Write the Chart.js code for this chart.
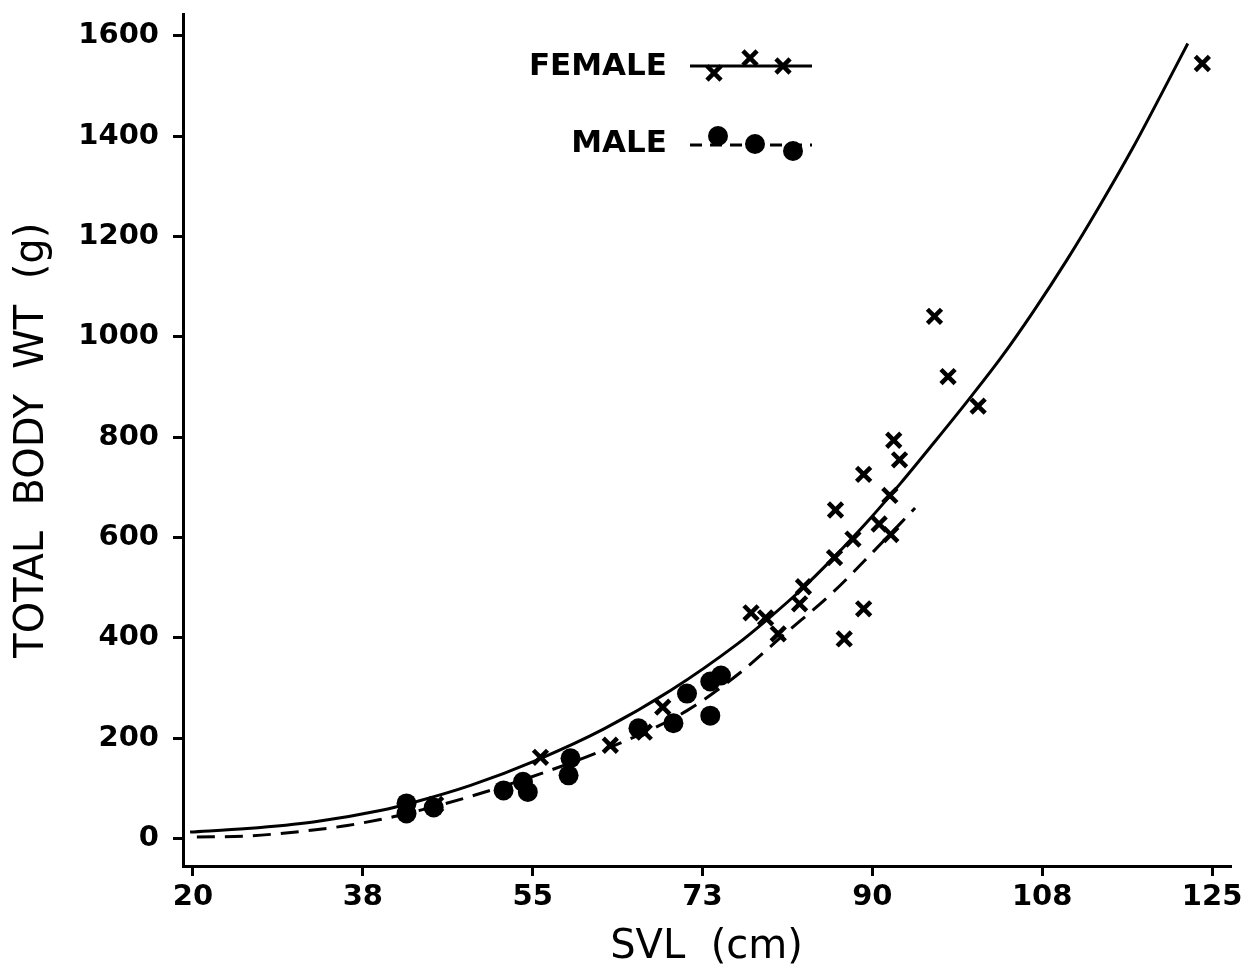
<!DOCTYPE html>
<html>
<head>
<meta charset="utf-8">
<script src="https://cdn.jsdelivr.net/npm/chart.js@4.4.1/dist/chart.umd.min.js"></script>
<style>
html,body{margin:0;padding:0;background:#fff;}
#wrap{width:1249px;height:969px;}
</style>
</head>
<body>
<div id="wrap"><canvas id="c" width="1249" height="969"></canvas></div>
<script>
// ---- tick definitions ----
const xTickValues = [20, 37.5, 55, 72.5, 90, 107.5, 125];
const xTickLabels = ['20', '38', '55', '73', '90', '108', '125'];
const yTickValues = [0, 200, 400, 600, 800, 1000, 1200, 1400, 1600];

// ---- observed females (x markers) ----
const femaleSVL = [124.0, 96.4, 97.8, 100.9, 92.2, 92.8, 89.1, 91.8, 86.2, 90.7, 91.9, 88.0, 86.1, 82.9, 82.5, 77.5, 79.0, 80.3, 89.1, 87.1, 55.8, 63.0, 68.4, 45.0, 66.5];
const femaleWT  = [1545, 1041, 921, 862, 794, 755, 726, 684, 655, 627, 606, 597, 560, 502, 468, 450, 440, 408, 458, 398, 162, 186, 262, 68, 212];

// ---- observed males (filled circles) ----
const maleSVL = [42.0, 42.0, 44.8, 52.0, 54.0, 54.5, 58.9, 58.7, 65.9, 69.5, 70.9, 73.3, 73.3, 74.4];
const maleWT  = [70, 50, 62, 96, 113, 93, 160, 126, 220, 230, 289, 245, 313, 325];

// ---- fitted curves ----
const femaleCurveSVL = [19.7, 25.6, 32.4, 39.3, 42.7, 48.6, 55.5, 62.3, 69.2, 76.1, 79.2, 82.6, 86.0, 89.5, 92.9, 96.3, 99.8, 103.2, 106.6, 110.1, 113.5, 116.9, 119.7, 122.5];
const femaleCurveWT  = [13, 20, 33, 56, 72, 106, 157, 218, 295, 388, 437, 495, 560, 632, 708, 788, 872, 957, 1051, 1155, 1264, 1379, 1481, 1585];
const maleCurveSVL = [20.4, 25.5, 29.0, 32.4, 35.9, 39.3, 41.0, 48.6, 56.5, 64.0, 70.9, 76.4, 80.8, 86.0, 90.1, 94.4];
const maleCurveWT  = [3, 5, 10, 17, 26, 38, 45, 84, 134, 190, 255, 331, 405, 492, 572, 659];

const toXY = (xs, ys) => xs.map((x, i) => ({x: x, y: ys[i]}));

const TICK_FONT = {family: '"DejaVu Sans", sans-serif', size: 29, weight: 'bold'};
const TITLE_FONT = {family: '"DejaVu Sans", sans-serif', size: 40, weight: 'normal', lineHeight: 1};

const legendPlugin = {
  id: 'customLegend',
  afterDraw(chart) {
    const ctx = chart.ctx;
    ctx.save();
    ctx.fillStyle = '#000';
    ctx.strokeStyle = '#000';
    ctx.font = 'bold 31px "DejaVu Sans", sans-serif';
    ctx.textAlign = 'right';
    ctx.textBaseline = 'middle';
    ctx.fillText('FEMALE', 667, 67);
    ctx.fillText('MALE', 667, 144);
    // female sample: solid line with x markers
    ctx.lineWidth = 3;
    ctx.setLineDash([]);
    ctx.beginPath(); ctx.moveTo(690, 66); ctx.lineTo(812, 66); ctx.stroke();
    const fem = {pointStyle: 'crossRot', radius: 10, borderWidth: 4.5};
    ctx.lineWidth = 4.5;
    Chart.helpers.drawPoint(ctx, fem, 714, 73);
    Chart.helpers.drawPoint(ctx, fem, 750, 58);
    Chart.helpers.drawPoint(ctx, fem, 783, 66);
    // male sample: dashed line with dots
    ctx.lineWidth = 3;
    ctx.setLineDash([12, 8]);
    ctx.beginPath(); ctx.moveTo(690, 145); ctx.lineTo(812, 145); ctx.stroke();
    ctx.setLineDash([]);
    [[718, 136], [755, 144], [793, 151]].forEach(p => {
      ctx.beginPath(); ctx.arc(p[0], p[1], 10, 0, Math.PI * 2); ctx.fill();
    });
    ctx.restore();
  }
};

const bgPlugin = {
  id: 'bg',
  beforeDraw(chart) {
    const ctx = chart.ctx;
    ctx.save(); ctx.fillStyle = '#fff'; ctx.fillRect(0, 0, chart.width, chart.height); ctx.restore();
  }
};

new Chart(document.getElementById('c'), {
  type: 'scatter',
  data: {
    datasets: [
      {
        label: 'FEMALE fit',
        data: toXY(femaleCurveSVL, femaleCurveWT),
        showLine: true,
        borderColor: '#000',
        borderWidth: 3,
        pointRadius: 0,
        cubicInterpolationMode: 'monotone',
        order: 3
      },
      {
        label: 'MALE fit',
        data: toXY(maleCurveSVL, maleCurveWT),
        showLine: true,
        borderColor: '#000',
        borderWidth: 3,
        borderDash: [18, 10],
        pointRadius: 0,
        cubicInterpolationMode: 'monotone',
        order: 4
      },
      {
        label: 'FEMALE',
        data: toXY(femaleSVL, femaleWT),
        pointStyle: 'crossRot',
        pointRadius: 10,
        pointBorderWidth: 4.5,
        borderColor: '#000',
        backgroundColor: '#000',
        order: 1
      },
      {
        label: 'MALE',
        data: toXY(maleSVL, maleWT),
        pointStyle: 'circle',
        pointRadius: 10,
        borderWidth: 0,
        borderColor: '#000',
        backgroundColor: '#000',
        order: 2
      }
    ]
  },
  options: {
    responsive: false,
    devicePixelRatio: 1,
    animation: false,
    layout: {padding: {top: 12, right: 19, left: 0, bottom: 0}},
    plugins: {legend: {display: false}, tooltip: {enabled: false}},
    scales: {
      x: {
        type: 'linear',
        min: 18.97,
        max: 126.85,
        afterBuildTicks: s => { s.ticks = xTickValues.map(v => ({value: v})); },
        afterFit: s => { s.height = 103; s.paddingLeft = 0; s.paddingRight = 0; },
        ticks: {
          color: '#000',
          font: TICK_FONT,
          padding: 4,
          maxRotation: 0,
          autoSkip: false,
          callback: (v) => { const i = xTickValues.indexOf(v); return i >= 0 ? xTickLabels[i] : ''; }
        },
        grid: {drawOnChartArea: false, drawTicks: true, tickLength: 10, color: '#000', lineWidth: 3},
        border: {display: true, color: '#000', width: 3},
        title: {display: true, text: 'SVL  (cm)', color: '#000', font: TITLE_FONT, padding: {top: 0, bottom: 1}}
      },
      y: {
        type: 'linear',
        min: -54.7,
        max: 1642.7,
        afterBuildTicks: s => { s.ticks = yTickValues.map(v => ({value: v})); },
        afterFit: s => { s.width = 183; s.paddingTop = 0; s.paddingBottom = 0; },
        ticks: {
          color: '#000',
          font: TICK_FONT,
          padding: 14,
          autoSkip: false,
          callback: (v) => String(v)
        },
        grid: {drawOnChartArea: false, drawTicks: true, tickLength: 10, color: '#000', lineWidth: 3},
        border: {display: true, color: '#000', width: 3},
        title: {display: true, text: 'TOTAL  BODY  WT  (g)', color: '#000', font: TITLE_FONT, padding: {top: 13, bottom: 0}}
      }
    }
  },
  plugins: [bgPlugin, legendPlugin]
});
</script>
</body>
</html>
